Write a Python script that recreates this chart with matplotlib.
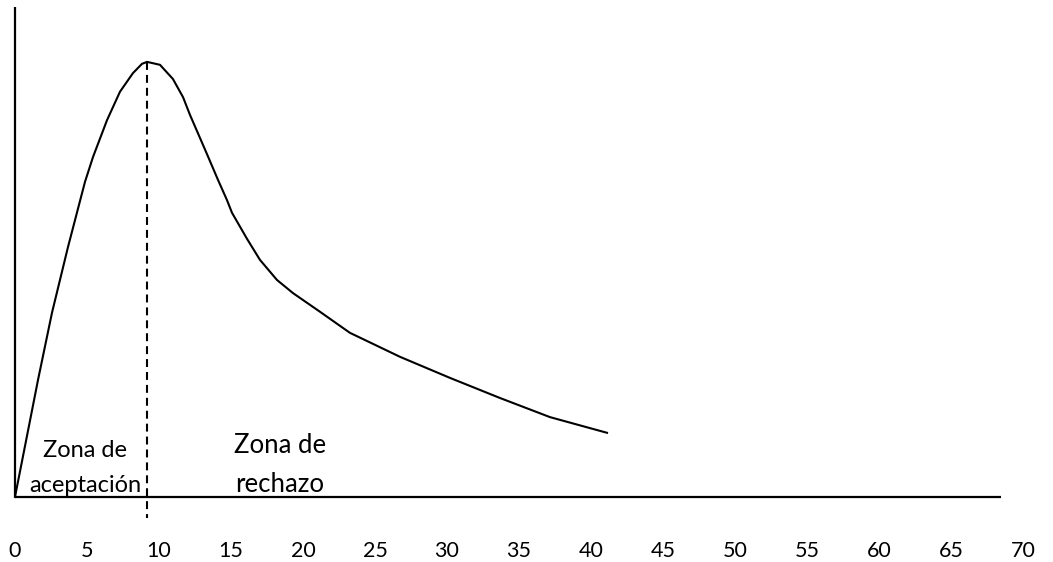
import matplotlib
matplotlib.use("Agg")
import matplotlib.pyplot as plt

# curve points (x in chart units, y in arbitrary units 0-100)
curve_x = [0, 1.60, 2.57, 3.68, 4.86, 5.42, 6.39, 7.29, 8.19, 8.82, 9.17,
           10.07, 10.97, 11.67, 12.15, 13.33, 14.10, 14.72, 15.07, 16.11, 17.01,
           18.19, 19.31, 21.18, 23.26, 26.74, 30.21, 33.68, 37.15, 41.11]
curve_y = [0, 23.9, 37.6, 51.0, 64.3, 69.4, 76.9, 82.7, 86.5, 88.4, 88.8,
           88.2, 85.3, 81.6, 78.0, 70.0, 64.7, 60.6, 58.0, 52.7, 48.4,
           44.3, 41.6, 37.8, 33.5, 28.6, 24.3, 20.2, 16.3, 13.1]

peak_x = 9.17
peak_y = 88.8
tick_vals = [0, 5, 10, 15, 20, 25, 30, 35, 40, 45, 50, 55, 60, 65, 70]
axis_end_x = 68.5
axis_top_y = 100

plt.rcParams['font.family'] = ['Lato', 'DejaVu Sans']

fig = plt.figure(figsize=(10.53, 5.62), dpi=100)
ax = fig.add_axes([0, 0, 1, 1])
ax.set_xlim(-1.04, 72.08)
ax.set_ylim(-13.27, 101.43)
ax.axis('off')

# axis lines
ax.plot([0, 0], [0, axis_top_y], color='black', lw=1.6, solid_capstyle='butt')
ax.plot([0, axis_end_x], [0, 0], color='black', lw=1.6, solid_capstyle='butt')

# curve
ax.plot(curve_x, curve_y, color='black', lw=1.5, solid_joinstyle='round')

# dashed line at the peak
ax.plot([peak_x, peak_x], [peak_y, -4.3], color='black', lw=1.5,
        linestyle=(0, (3.8, 2.4)))

# tick labels
for v in tick_vals:
    ax.text(v, -12.2, str(v), ha='center', va='baseline', fontsize=15.5)

ax.text(4.86, 8.16, "Zona de", ha='center', va='baseline', fontsize=17)
ax.text(4.86, 1.02, "aceptación", ha='center', va='baseline', fontsize=17)
ax.text(18.4, 8.98, "Zona de", ha='center', va='baseline', fontsize=18.5)
ax.text(18.4, 1.02, "rechazo", ha='center', va='baseline', fontsize=18.5)

fig.savefig("out.png", dpi=100)
